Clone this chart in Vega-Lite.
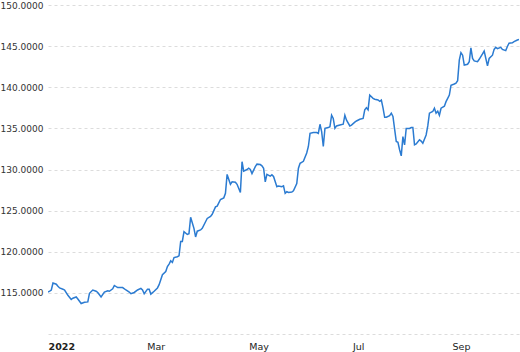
{
  "$schema": "https://vega.github.io/schema/vega-lite/v6.json",
  "width": 471,
  "height": 329,
  "autosize": {"type": "none"},
  "padding": {"left": 48, "top": 5, "right": 1, "bottom": 18},
  "background": "white",
  "config": {
    "view": {"stroke": null},
    "axis": {"labelFont": "DejaVu Sans", "labelFontSize": 9, "labelColor": "#333333"}
  },
  "data": {
    "values": [
      {"date": "2021-12-26", "value": 115.1},
      {"date": "2021-12-27", "value": 115.2},
      {"date": "2021-12-28", "value": 115.35},
      {"date": "2021-12-29", "value": 116.2},
      {"date": "2021-12-31", "value": 116.05},
      {"date": "2022-01-01", "value": 115.8},
      {"date": "2022-01-02", "value": 115.6},
      {"date": "2022-01-04", "value": 115.45},
      {"date": "2022-01-05", "value": 115.35},
      {"date": "2022-01-07", "value": 114.7},
      {"date": "2022-01-09", "value": 114.2},
      {"date": "2022-01-10", "value": 114.35},
      {"date": "2022-01-12", "value": 114.5},
      {"date": "2022-01-13", "value": 114.25},
      {"date": "2022-01-15", "value": 113.7},
      {"date": "2022-01-17", "value": 113.85},
      {"date": "2022-01-19", "value": 113.9},
      {"date": "2022-01-20", "value": 114.95},
      {"date": "2022-01-22", "value": 115.35},
      {"date": "2022-01-24", "value": 115.2},
      {"date": "2022-01-25", "value": 115.05},
      {"date": "2022-01-27", "value": 114.5},
      {"date": "2022-01-29", "value": 115.1},
      {"date": "2022-01-31", "value": 115.25},
      {"date": "2022-02-01", "value": 115.2},
      {"date": "2022-02-03", "value": 115.5},
      {"date": "2022-02-04", "value": 115.9},
      {"date": "2022-02-06", "value": 115.65},
      {"date": "2022-02-08", "value": 115.65},
      {"date": "2022-02-09", "value": 115.65},
      {"date": "2022-02-11", "value": 115.35},
      {"date": "2022-02-13", "value": 115.1},
      {"date": "2022-02-14", "value": 114.9},
      {"date": "2022-02-16", "value": 115.05},
      {"date": "2022-02-18", "value": 115.35},
      {"date": "2022-02-20", "value": 115.55},
      {"date": "2022-02-21", "value": 115.35},
      {"date": "2022-02-22", "value": 114.9},
      {"date": "2022-02-24", "value": 115.45},
      {"date": "2022-02-25", "value": 115.45},
      {"date": "2022-02-26", "value": 114.85},
      {"date": "2022-02-28", "value": 115.2},
      {"date": "2022-03-02", "value": 115.6},
      {"date": "2022-03-03", "value": 116.0},
      {"date": "2022-03-05", "value": 117.2},
      {"date": "2022-03-07", "value": 117.6},
      {"date": "2022-03-08", "value": 118.2},
      {"date": "2022-03-09", "value": 118.5},
      {"date": "2022-03-10", "value": 118.9},
      {"date": "2022-03-11", "value": 118.7},
      {"date": "2022-03-12", "value": 119.3},
      {"date": "2022-03-14", "value": 119.4},
      {"date": "2022-03-15", "value": 119.5},
      {"date": "2022-03-16", "value": 121.25},
      {"date": "2022-03-17", "value": 121.25},
      {"date": "2022-03-18", "value": 122.45},
      {"date": "2022-03-20", "value": 122.1},
      {"date": "2022-03-21", "value": 122.2},
      {"date": "2022-03-22", "value": 124.2},
      {"date": "2022-03-24", "value": 122.85},
      {"date": "2022-03-25", "value": 121.8},
      {"date": "2022-03-26", "value": 122.5},
      {"date": "2022-03-28", "value": 122.65},
      {"date": "2022-03-29", "value": 122.85},
      {"date": "2022-03-31", "value": 123.65},
      {"date": "2022-04-01", "value": 124.05},
      {"date": "2022-04-03", "value": 124.3},
      {"date": "2022-04-04", "value": 124.55},
      {"date": "2022-04-06", "value": 125.45},
      {"date": "2022-04-07", "value": 125.55},
      {"date": "2022-04-09", "value": 126.35},
      {"date": "2022-04-11", "value": 126.55},
      {"date": "2022-04-12", "value": 127.1},
      {"date": "2022-04-13", "value": 129.4},
      {"date": "2022-04-15", "value": 128.2},
      {"date": "2022-04-16", "value": 128.5},
      {"date": "2022-04-18", "value": 128.45},
      {"date": "2022-04-19", "value": 128.2},
      {"date": "2022-04-21", "value": 127.2},
      {"date": "2022-04-22", "value": 130.95},
      {"date": "2022-04-23", "value": 129.8},
      {"date": "2022-04-25", "value": 130.0},
      {"date": "2022-04-26", "value": 130.15},
      {"date": "2022-04-27", "value": 130.0},
      {"date": "2022-04-28", "value": 129.5},
      {"date": "2022-04-30", "value": 130.35},
      {"date": "2022-05-01", "value": 130.65},
      {"date": "2022-05-03", "value": 130.6},
      {"date": "2022-05-04", "value": 130.45},
      {"date": "2022-05-05", "value": 130.15},
      {"date": "2022-05-06", "value": 128.5},
      {"date": "2022-05-07", "value": 129.4},
      {"date": "2022-05-09", "value": 129.2},
      {"date": "2022-05-10", "value": 129.35},
      {"date": "2022-05-11", "value": 129.15},
      {"date": "2022-05-13", "value": 127.9},
      {"date": "2022-05-14", "value": 128.0},
      {"date": "2022-05-16", "value": 127.9},
      {"date": "2022-05-17", "value": 128.0},
      {"date": "2022-05-18", "value": 127.1},
      {"date": "2022-05-19", "value": 127.3},
      {"date": "2022-05-20", "value": 127.2},
      {"date": "2022-05-22", "value": 127.25},
      {"date": "2022-05-23", "value": 127.4},
      {"date": "2022-05-25", "value": 128.3},
      {"date": "2022-05-26", "value": 130.15},
      {"date": "2022-05-27", "value": 130.75},
      {"date": "2022-05-29", "value": 131.0},
      {"date": "2022-05-31", "value": 132.0},
      {"date": "2022-06-01", "value": 132.8},
      {"date": "2022-06-02", "value": 134.4},
      {"date": "2022-06-04", "value": 134.5},
      {"date": "2022-06-06", "value": 134.5},
      {"date": "2022-06-07", "value": 134.4},
      {"date": "2022-06-08", "value": 135.5},
      {"date": "2022-06-09", "value": 134.6},
      {"date": "2022-06-10", "value": 132.8},
      {"date": "2022-06-11", "value": 135.0},
      {"date": "2022-06-13", "value": 135.1},
      {"date": "2022-06-14", "value": 135.2},
      {"date": "2022-06-15", "value": 136.6},
      {"date": "2022-06-16", "value": 136.2},
      {"date": "2022-06-17", "value": 135.0},
      {"date": "2022-06-18", "value": 135.3},
      {"date": "2022-06-20", "value": 135.4},
      {"date": "2022-06-22", "value": 135.5},
      {"date": "2022-06-23", "value": 136.6},
      {"date": "2022-06-24", "value": 136.0},
      {"date": "2022-06-26", "value": 135.3},
      {"date": "2022-06-27", "value": 135.4},
      {"date": "2022-06-29", "value": 135.75},
      {"date": "2022-06-30", "value": 135.9},
      {"date": "2022-07-02", "value": 136.1},
      {"date": "2022-07-04", "value": 136.2},
      {"date": "2022-07-05", "value": 137.25},
      {"date": "2022-07-06", "value": 137.5},
      {"date": "2022-07-07", "value": 137.25},
      {"date": "2022-07-08", "value": 139.05},
      {"date": "2022-07-10", "value": 138.65},
      {"date": "2022-07-11", "value": 138.55},
      {"date": "2022-07-13", "value": 138.45},
      {"date": "2022-07-14", "value": 138.3},
      {"date": "2022-07-15", "value": 138.45},
      {"date": "2022-07-16", "value": 137.5},
      {"date": "2022-07-17", "value": 136.35},
      {"date": "2022-07-18", "value": 136.35},
      {"date": "2022-07-20", "value": 136.55},
      {"date": "2022-07-21", "value": 136.85},
      {"date": "2022-07-22", "value": 136.45},
      {"date": "2022-07-23", "value": 134.9},
      {"date": "2022-07-24", "value": 133.4},
      {"date": "2022-07-25", "value": 133.3},
      {"date": "2022-07-26", "value": 132.4},
      {"date": "2022-07-27", "value": 131.65},
      {"date": "2022-07-28", "value": 134.0},
      {"date": "2022-07-29", "value": 133.0},
      {"date": "2022-07-30", "value": 135.0},
      {"date": "2022-08-01", "value": 135.0},
      {"date": "2022-08-02", "value": 135.1},
      {"date": "2022-08-03", "value": 135.1},
      {"date": "2022-08-04", "value": 133.0},
      {"date": "2022-08-05", "value": 133.1},
      {"date": "2022-08-07", "value": 133.6},
      {"date": "2022-08-08", "value": 133.45},
      {"date": "2022-08-09", "value": 133.2},
      {"date": "2022-08-11", "value": 134.2},
      {"date": "2022-08-12", "value": 135.3},
      {"date": "2022-08-13", "value": 136.85},
      {"date": "2022-08-15", "value": 137.05},
      {"date": "2022-08-16", "value": 137.45},
      {"date": "2022-08-17", "value": 136.85},
      {"date": "2022-08-18", "value": 137.1},
      {"date": "2022-08-19", "value": 136.6},
      {"date": "2022-08-20", "value": 137.45},
      {"date": "2022-08-22", "value": 137.7},
      {"date": "2022-08-23", "value": 138.25},
      {"date": "2022-08-24", "value": 138.65},
      {"date": "2022-08-25", "value": 139.05},
      {"date": "2022-08-26", "value": 140.25},
      {"date": "2022-08-28", "value": 140.4},
      {"date": "2022-08-29", "value": 140.5},
      {"date": "2022-08-30", "value": 140.8},
      {"date": "2022-08-31", "value": 143.3},
      {"date": "2022-09-01", "value": 144.2},
      {"date": "2022-09-02", "value": 143.9},
      {"date": "2022-09-03", "value": 142.7},
      {"date": "2022-09-05", "value": 142.8},
      {"date": "2022-09-06", "value": 143.1},
      {"date": "2022-09-07", "value": 144.8},
      {"date": "2022-09-08", "value": 143.5},
      {"date": "2022-09-09", "value": 143.2},
      {"date": "2022-09-11", "value": 143.1},
      {"date": "2022-09-12", "value": 143.4},
      {"date": "2022-09-14", "value": 144.05},
      {"date": "2022-09-15", "value": 144.4},
      {"date": "2022-09-17", "value": 142.6},
      {"date": "2022-09-18", "value": 143.5},
      {"date": "2022-09-20", "value": 143.9},
      {"date": "2022-09-21", "value": 144.6},
      {"date": "2022-09-22", "value": 144.85},
      {"date": "2022-09-23", "value": 144.7},
      {"date": "2022-09-25", "value": 144.85},
      {"date": "2022-09-26", "value": 144.6},
      {"date": "2022-09-28", "value": 144.45},
      {"date": "2022-09-29", "value": 144.95},
      {"date": "2022-09-30", "value": 145.35},
      {"date": "2022-10-02", "value": 145.4},
      {"date": "2022-10-03", "value": 145.55},
      {"date": "2022-10-05", "value": 145.75},
      {"date": "2022-10-06", "value": 145.8}
    ]
  },
  "mark": {"type": "line", "color": "#2b7bd1", "strokeWidth": 1.5, "clip": true},
  "encoding": {
    "x": {
      "field": "date",
      "type": "temporal",
      "scale": {"domain": [{"year": 2021, "month": 12, "date": 26}, {"year": 2022, "month": 10, "date": 6}]},
      "axis": {
        "title": null,
        "domain": false,
        "ticks": false,
        "tickSize": 0,
        "grid": false,
        "labelPadding": 7,
        "values": [
          {"year": 2022, "month": 1, "date": 3},
          {"year": 2022, "month": 3, "date": 1},
          {"year": 2022, "month": 5, "date": 2},
          {"year": 2022, "month": 7, "date": 1},
          {"year": 2022, "month": 9, "date": 1}
        ],
        "labelExpr": "month(datum.value) == 0 ? timeFormat(datum.value, '%Y') : timeFormat(datum.value, '%b')",
        "labelFontWeight": {"condition": {"test": "month(datum.value) == 0", "value": "bold"}, "value": "normal"},
        "labelFontSize": 9.5,
        "labelColor": "#222222"
      }
    },
    "y": {
      "field": "value",
      "type": "quantitative",
      "scale": {"domain": [110, 150], "nice": false, "zero": false},
      "axis": {
        "title": null,
        "domain": false,
        "ticks": false,
        "tickSize": 0,
        "values": [110, 115, 120, 125, 130, 135, 140, 145, 150],
        "labelExpr": "datum.value == 110 ? '' : format(datum.value, '.4f')",
        "labelAlign": "left",
        "labelPadding": 48,
        "labelBaseline": "middle",
        "grid": true,
        "gridColor": "#dcdcdc",
        "gridDash": [3, 3],
        "gridWidth": 1
      }
    }
  }
}
